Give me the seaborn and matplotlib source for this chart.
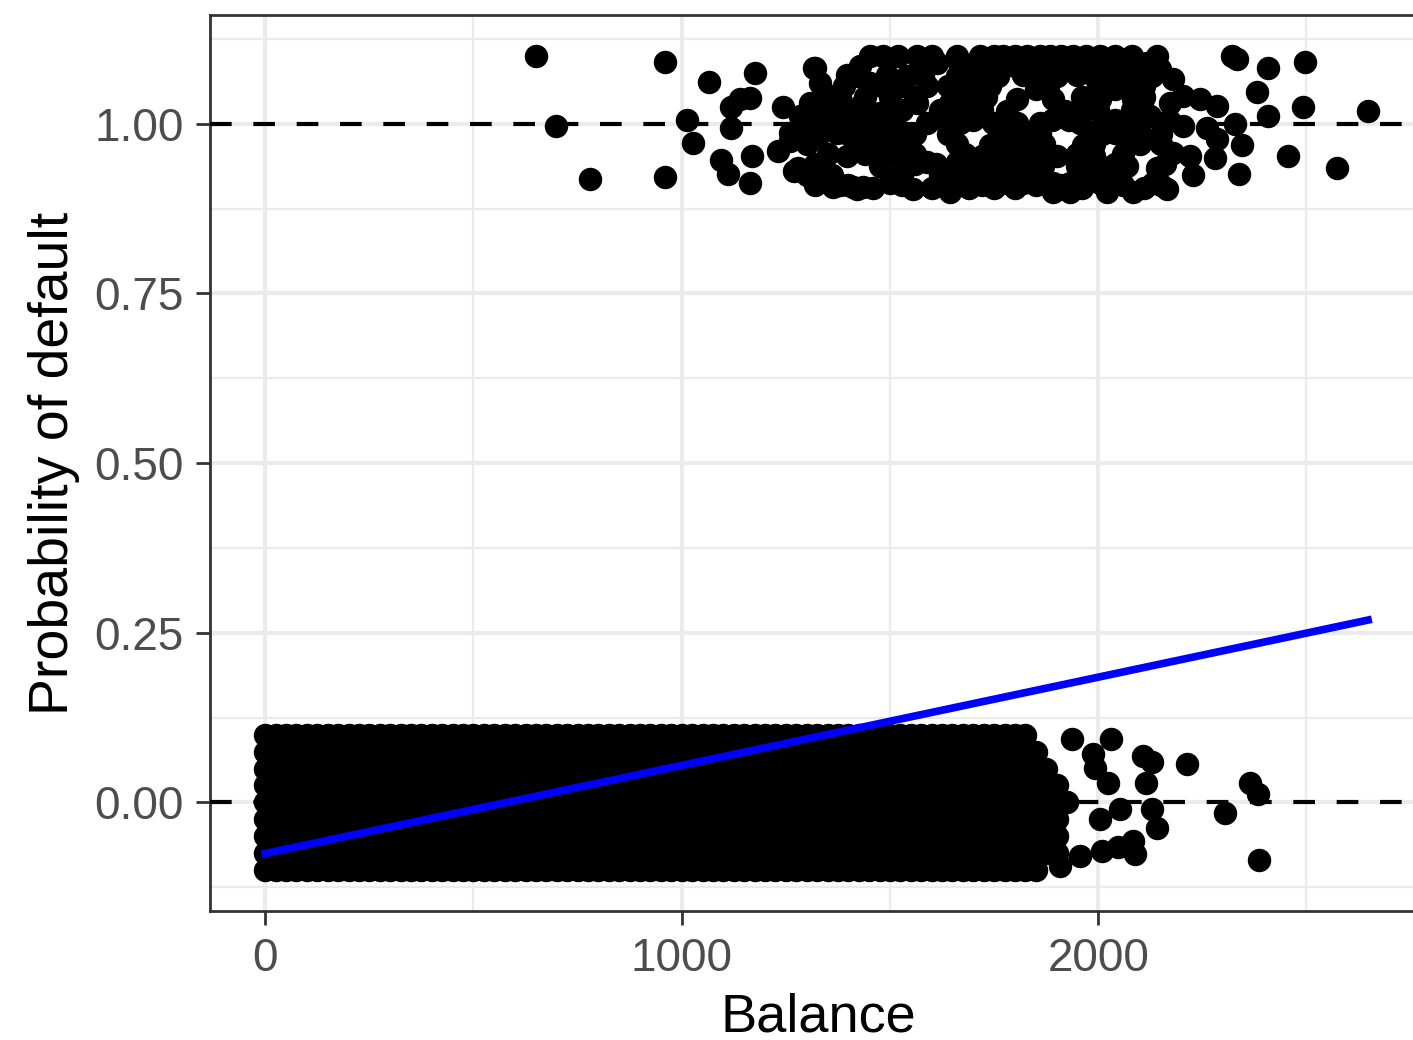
import numpy as np
import pandas as pd
import matplotlib
matplotlib.use("Agg")
import matplotlib.pyplot as plt
import seaborn as sns

# ---- customers who defaulted (plotted with vertical jitter around 1) ----
yes_balance = [
    651, 959, 698, 779, 959, 1065, 1175, 1141, 1165, 1118, 1012, 1026, 1118, 1094, 1110,
    1168, 1163, 1242, 1230, 1317, 1269, 1364, 1261, 1412, 1436,
    1321, 1333, 1309, 1357, 1398, 1429, 1453, 1484, 1566, 1614, 1669, 1532, 1453, 1494,
    1429, 1477, 1340, 1285, 1261, 1326, 1374, 1422, 1470, 1532, 1518, 1477, 1398, 1278,
    1333, 1381, 1422, 1501, 1556, 1590, 1621, 1645, 1662, 1590, 1662, 1645, 1590, 1566, 1686,
    1717, 1772, 1830, 1885, 1940, 2005, 2053, 2117,
    1693, 1734, 1820, 1878, 1950, 1988, 2094,
    1717, 1806, 1892, 1974, 2005, 2084,
    1669, 1748, 1806, 1861, 1957, 2012, 2070,
    1741, 1796, 1844, 1964, 2070,
    1693, 1748, 1813, 1868, 1950, 2005, 2070,
    1710, 1772, 1820, 1892, 1933, 2005, 2053, 2132,
    1892, 1933, 2022, 2084,
    1850, 2040, 1690, 1780, 1920, 2110, 1780, 1990, 2040, 2100, 1720, 1790, 1900, 1990,
    2321, 2333, 2408, 2496, 2381, 2492, 2408, 2328, 2345, 2456, 2573, 2338, 2281, 2285,
    2245, 2204, 2180, 2141, 2149, 2173, 2204, 2261, 2285, 2149, 2141, 2165, 2228, 2221,
    2180, 2125, 2156, 2647,
    1700, 1760, 1800, 1850, 1910, 1970, 2030, 2070, 2130,
    1640, 1700, 1740, 1880, 2000, 2070, 2110, 1480, 1390,
    1350, 1400, 1530, 1620, 1650, 1720, 1960, 2000, 2080,
    1290, 1400, 1450, 1500, 1560, 1640, 1830, 1860, 2010, 2150,
    1350, 1440, 1560, 1680, 1760, 1830, 1860, 1950, 2060,
    1300, 1360, 1530, 1650, 1730, 1790, 1850, 1980, 2030,
    1460, 1600, 1690, 1750, 1800, 1960, 2110,
    1520, 1600, 1660, 1750, 1800, 1860, 1910, 1970, 2040, 2080,
    1420, 1540, 1580, 1660, 1760, 1840, 1900, 2020, 2060, 2130,
    1380, 1440, 1500, 1560, 1680, 1730, 1960, 2110,
    1320, 1380, 1460, 1510, 1630, 1700, 1780, 1890, 1930, 2040, 2100, 2170,
    1300, 1420, 1480, 1540, 1660, 1780, 1870, 1990, 2100, 2150,
    1320, 1480, 1560, 1610, 1720, 1790, 1840, 1990, 2040, 2160,
    1320, 1400, 1530, 1620, 1670, 1720, 1850, 1910, 2060, 2150,
]
yes_jitter = [
    1.099, 1.091, 0.997, 0.918, 0.922, 1.062, 1.074, 1.037, 1.038, 1.025, 1.006, 0.972, 0.993, 0.946, 0.926,
    0.953, 0.913, 1.024, 0.960, 1.082, 0.931, 0.906, 0.975, 0.906, 0.906,
    1.082, 1.060, 1.031, 1.041, 1.071, 1.085, 1.100, 1.100, 1.100, 1.090, 1.085, 1.056, 1.060, 1.071,
    1.026, 1.016, 1.007, 1.012, 0.987, 0.982, 0.987, 0.997, 0.972, 0.982, 0.953, 0.938, 0.953, 0.934,
    0.928, 0.909, 0.904, 0.913, 0.904, 0.943, 0.924, 0.899, 0.943, 1.001, 1.001, 1.031, 1.056, 1.031, 1.066,
    1.100, 1.100, 1.100, 1.100, 1.100, 1.100, 1.095, 1.090,
    1.071, 1.071, 1.071, 1.071, 1.071, 1.071, 1.071,
    1.037, 1.037, 1.037, 1.037, 1.037, 1.037,
    1.001, 1.001, 1.001, 1.001, 1.001, 1.001, 1.001,
    0.968, 0.968, 0.968, 0.968, 0.968,
    0.938, 0.938, 0.938, 0.938, 0.938, 0.938, 0.938,
    0.913, 0.913, 0.913, 0.913, 0.913, 0.913, 0.913, 0.913,
    0.899, 0.899, 0.899, 0.899,
    1.051, 1.051, 1.019, 1.019, 1.019, 1.019, 0.987, 0.987, 0.987, 0.987, 0.953, 0.953, 0.953, 0.953,
    1.100, 1.096, 1.082, 1.091, 1.046, 1.024, 1.012, 1.000, 0.968, 0.953, 0.934, 0.926, 0.949, 1.026,
    1.037, 1.041, 1.066, 1.100, 1.081, 1.031, 0.997, 0.993, 0.978, 0.972, 0.934, 0.904, 0.924, 0.953,
    0.957, 1.012, 1.001, 1.019,
    1.085, 1.085, 1.085, 1.085, 1.085, 1.085, 1.085, 1.085, 1.085,
    1.055, 1.055, 1.055, 1.055, 1.055, 1.055, 1.055, 1.055, 1.055,
    1.020, 1.020, 1.020, 1.020, 1.020, 1.020, 1.020, 1.020, 1.020,
    0.985, 0.985, 0.985, 0.985, 0.985, 0.985, 0.985, 0.985, 0.985, 0.985,
    0.955, 0.955, 0.955, 0.955, 0.955, 0.955, 0.955, 0.955, 0.955,
    0.925, 0.925, 0.925, 0.925, 0.925, 0.925, 0.925, 0.925, 0.925,
    0.905, 0.905, 0.905, 0.905, 0.905, 0.905, 0.905,
    1.100, 1.100, 1.100, 1.100, 1.100, 1.100, 1.100, 1.100, 1.100, 1.100,
    1.070, 1.070, 1.070, 1.070, 1.070, 1.070, 1.070, 1.070, 1.070, 1.070,
    1.040, 1.040, 1.040, 1.040, 1.040, 1.040, 1.040, 1.040,
    1.005, 1.005, 1.005, 1.005, 1.005, 1.005, 1.005, 1.005, 1.005, 1.005, 1.005, 1.005,
    0.970, 0.970, 0.970, 0.970, 0.970, 0.970, 0.970, 0.970, 0.970, 0.970,
    0.940, 0.940, 0.940, 0.940, 0.940, 0.940, 0.940, 0.940, 0.940, 0.940,
    0.910, 0.910, 0.910, 0.910, 0.910, 0.910, 0.910, 0.910, 0.910, 0.910,
]

# ---- non-defaulters lying outside the dense band (jitter around 0) ----
no_balance = [1938, 2031, 1988, 2108, 2129, 2213, 2115, 2024, 1993, 2365, 2384, 2053,
              2129, 2305, 2141, 2005, 2010, 2048, 2084, 2089, 2386, 1909, 1957]
no_jitter = [0.093, 0.093, 0.071, 0.068, 0.060, 0.057, 0.029, 0.029, 0.051, 0.029, 0.012, -0.010,
             -0.010, -0.015, -0.037, -0.025, -0.072, -0.066, -0.057, -0.076, -0.085, -0.094, -0.079]

# ---- dense band of non-defaulters (balance 0 .. ~1900, jitter -0.1 .. 0.1) ----
band_balance = [0, 25, 50, 75, 100, 125, 150, 175, 200, 225, 250, 275, 300, 325, 350, 375,
                400, 425, 450, 475, 500, 525, 550, 575, 600, 625, 650, 675, 700, 725, 750,
                775, 800, 825, 850, 875, 900, 925, 950, 975, 1000, 1025, 1050, 1075, 1100,
                1125, 1150, 1175, 1200, 1225, 1250, 1275, 1300, 1325, 1350, 1375, 1400, 1425,
                1450, 1475, 1500, 1525, 1550, 1575, 1600, 1625, 1650, 1675, 1700, 1725, 1750,
                1775, 1800, 1825, 1850, 1875, 1900, 1925]
band_levels = [-0.1, -0.075, -0.05, -0.025, 0.0, 0.025, 0.05, 0.075, 0.1]
band_right_edge = [1870, 1900, 1900, 1920, 1930, 1900, 1880, 1860, 1830]

# ---- linear probability fit ----
fit_balance = [0, 2648]
fit_prob = [-0.0752, 0.2687]

x_ticks = [0, 1000, 2000]
x_minor = [500, 1500, 2500]
y_ticks = [0.0, 0.25, 0.5, 0.75, 1.0]
y_minor = [-0.125, 0.125, 0.375, 0.625, 0.875, 1.125]
y_tick_labels = ["0.00", "0.25", "0.50", "0.75", "1.00"]

# assemble data
band_x, band_y = [], []
for lvl, edge in zip(band_levels, band_right_edge):
    for b in band_balance:
        if b <= edge:
            band_x.append(b)
            band_y.append(lvl)

df = pd.DataFrame({
    "balance": list(band_x) + list(no_balance) + list(yes_balance),
    "jittered": list(band_y) + list(no_jitter) + list(yes_jitter),
})
fit_df = pd.DataFrame({"balance": fit_balance, "prob": fit_prob})

plt.rcParams["font.family"] = ["Liberation Sans", "DejaVu Sans"]

fig = plt.figure(figsize=(14.13, 10.40), dpi=100)
ax = fig.add_axes([0.1486, 0.1240, 0.8606, 0.8615])
ax.set_facecolor("white")

sns.scatterplot(data=df, x="balance", y="jittered", color="black", s=285,
                linewidth=0, ax=ax, legend=False, zorder=3)
ax.axhline(0, color="black", lw=3, ls=(0, (5.2, 5.2)), zorder=4)
ax.axhline(1, color="black", lw=3, ls=(0, (5.2, 5.2)), zorder=4)
sns.lineplot(data=fit_df, x="balance", y="prob", color="blue", lw=5.5, ax=ax, zorder=5)

ax.set_xlim(-132.7, 2787)
ax.set_ylim(-0.16, 1.16)
ax.set_xticks(x_ticks)
ax.set_xticklabels([str(t) for t in x_ticks])
ax.set_xticks(x_minor, minor=True)
ax.set_yticks(y_ticks)
ax.set_yticklabels(y_tick_labels)
ax.set_yticks(y_minor, minor=True)

ax.set_axisbelow(True)
ax.grid(which="major", color="#EBEBEB", lw=3, zorder=0)
ax.grid(which="minor", color="#EBEBEB", lw=1.6, zorder=0)

for sp in ax.spines.values():
    sp.set_color("#333333")
    sp.set_linewidth(2)

ax.tick_params(which="major", length=10, width=2, color="#333333",
               labelsize=33, labelcolor="#4D4D4D", pad=9)
ax.tick_params(which="minor", length=0)

ax.set_xlabel("Balance", fontsize=39, color="black", labelpad=8)
ax.set_ylabel("Probability of default", fontsize=40, color="black", labelpad=10)

fig.savefig("out.png", dpi=100)
